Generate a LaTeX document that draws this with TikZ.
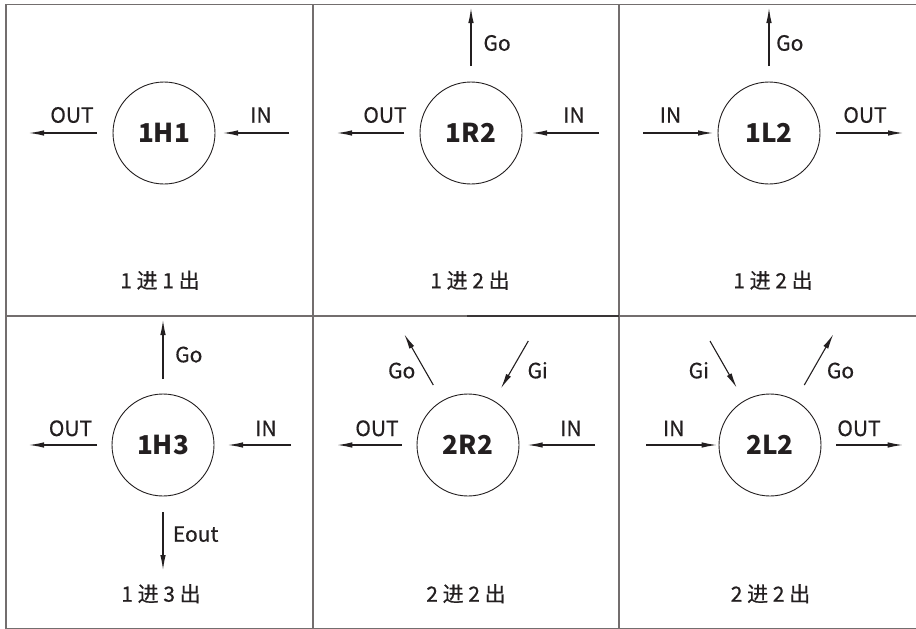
\documentclass[tikz,border=0pt]{standalone}
\usepackage{fontspec}
\setmainfont{Noto Sans CJK SC}
\usetikzlibrary{arrows.meta}
\definecolor{ink}{HTML}{231F20}
\definecolor{grid}{HTML}{736E6E}
\newcommand{\lblfont}{\fontsize{21}{24}\selectfont\addfontfeature{FakeBold=0.5}}
\tikzset{
  gridline/.style={draw=grid, line width=1.5pt},
  gridlinedark/.style={draw=ink!90, line width=1.6pt},
  unit/.style={circle, draw=ink, line width=0.9pt, minimum size=102pt, inner sep=0pt,
    font=\fontsize{26}{30}\selectfont\bfseries, text=ink},
  flow/.style={draw=ink, line width=1.1pt, -{Latex[length=15pt,width=5.5pt]}},
  lbl/.style={anchor=base, font=\lblfont, text=ink, inner sep=0pt},
  lblw/.style={anchor=base west, font=\lblfont, text=ink, inner sep=0pt},
  captext/.style={anchor=base, font=\lblfont, text=ink, inner sep=0pt},
}
\begin{document}
\begin{tikzpicture}[x=1pt,y=-1pt]
\useasboundingbox (0,0) rectangle (916,629);
% grid
\draw[gridline] (916,4.3) -- (6,4.3) -- (6,628.5) -- (916,628.5);
\draw[gridline] (313,4.3) -- (313,628.5);
\draw[gridline] (619,4.3) -- (619,628.5);
\draw[gridline] (6,316) -- (916,316);
\draw[gridlinedark] (467,316) -- (619,316);

% ---------- 1H1 ----------
\node[unit] (c1) at (164,133) {1H1};
\coordinate (c1os) at (97,133); \coordinate (c1oe) at (29,133);
\coordinate (c1is) at (289,133); \coordinate (c1ie) at (223,133);
\draw[flow] (c1os) -- (c1oe);
\draw[flow] (c1is) -- (c1ie);
\node[lbl] (c1ol) at (72,122.7) {OUT};
\node[lbl] (c1il) at (261,122.7) {IN};
\node[captext] (c1c) at (160,288.3) {1 进 1 出};

% ---------- 1R2 ----------
\node[unit] (c2) at (471,133) {1R2};
\coordinate (c2gs) at (471,66); \coordinate (c2ge) at (471,8);
\coordinate (c2os) at (404,133); \coordinate (c2oe) at (337,133);
\coordinate (c2is) at (599,133); \coordinate (c2ie) at (532,133);
\draw[flow] (c2gs) -- (c2ge);
\draw[flow] (c2os) -- (c2oe);
\draw[flow] (c2is) -- (c2ie);
\node[lblw] (c2gl) at (483.3,50.7) {Go};
\node[lbl] (c2ol) at (385,122.7) {OUT};
\node[lbl] (c2il) at (574,122.7) {IN};
\node[captext] (c2c) at (470,288.3) {1 进 2 出};

% ---------- 1L2 ----------
\node[unit] (c3) at (769,133) {1L2};
\coordinate (c3gs) at (769,66); \coordinate (c3ge) at (769,8);
\coordinate (c3is) at (643,133); \coordinate (c3ie) at (713,133);
\coordinate (c3os) at (836,133); \coordinate (c3oe) at (903,133);
\draw[flow] (c3gs) -- (c3ge);
\draw[flow] (c3is) -- (c3ie);
\draw[flow] (c3os) -- (c3oe);
\node[lblw] (c3gl) at (776,50.7) {Go};
\node[lbl] (c3il) at (670.5,122.7) {IN};
\node[lbl] (c3ol) at (865,122.7) {OUT};
\node[captext] (c3c) at (773,288.3) {1 进 2 出};

% ---------- 1H3 ----------
\node[unit] (c4) at (163,445) {1H3};
\coordinate (c4gs) at (163,379); \coordinate (c4ge) at (163,320);
\coordinate (c4os) at (97,445); \coordinate (c4oe) at (29,445);
\coordinate (c4is) at (291,445); \coordinate (c4ie) at (228,445);
\coordinate (c4es) at (163,512); \coordinate (c4ee) at (163,570);
\draw[flow] (c4gs) -- (c4ge);
\draw[flow] (c4os) -- (c4oe);
\draw[flow] (c4is) -- (c4ie);
\draw[flow] (c4es) -- (c4ee);
\node[lblw] (c4gl) at (175,362.3) {Go};
\node[lbl] (c4ol) at (70.5,436) {OUT};
\node[lbl] (c4il) at (266,436) {IN};
\node[lblw] (c4el) at (172.7,541.7) {Eout};
\node[captext] (c4c) at (161,601.7) {1 进 3 出};

% ---------- 2R2 ----------
\node[unit] (c5) at (468,445) {2R2};
\coordinate (c5gs) at (433.3,385); \coordinate (c5ge) at (404.3,334.3);
\coordinate (c5is2) at (528.3,341); \coordinate (c5ie2) at (501,388.3);
\coordinate (c5os) at (401.7,445); \coordinate (c5oe) at (337.3,445);
\coordinate (c5is) at (595,445); \coordinate (c5ie) at (527.7,445);
\draw[flow] (c5gs) -- (c5ge);
\draw[flow] (c5is2) -- (c5ie2);
\draw[flow] (c5os) -- (c5oe);
\draw[flow] (c5is) -- (c5ie);
\node[lbl] (c5gl) at (401.7,378.3) {Go};
\node[lbl] (c5gil) at (537.7,378.3) {Gi};
\node[lbl] (c5ol) at (377,436) {OUT};
\node[lbl] (c5il) at (571,436) {IN};
\node[captext] (c5c) at (466,601.7) {2 进 2 出};

% ---------- 2L2 ----------
\node[unit] (c6) at (770,445) {2L2};
\coordinate (c6is2) at (710,341); \coordinate (c6ie2) at (736.7,387.7);
\coordinate (c6gs) at (804.3,385); \coordinate (c6ge) at (833.3,334.3);
\coordinate (c6is) at (646,445); \coordinate (c6ie) at (716.7,445);
\coordinate (c6os) at (836,445); \coordinate (c6oe) at (902.7,445);
\draw[flow] (c6is2) -- (c6ie2);
\draw[flow] (c6gs) -- (c6ge);
\draw[flow] (c6is) -- (c6ie);
\draw[flow] (c6os) -- (c6oe);
\node[lbl] (c6gil) at (698.8,378.3) {Gi};
\node[lbl] (c6gl) at (840.5,378.3) {Go};
\node[lbl] (c6il) at (673.7,436) {IN};
\node[lbl] (c6ol) at (859,436) {OUT};
\node[captext] (c6c) at (770.5,601.7) {2 进 2 出};
\end{tikzpicture}
\end{document}
